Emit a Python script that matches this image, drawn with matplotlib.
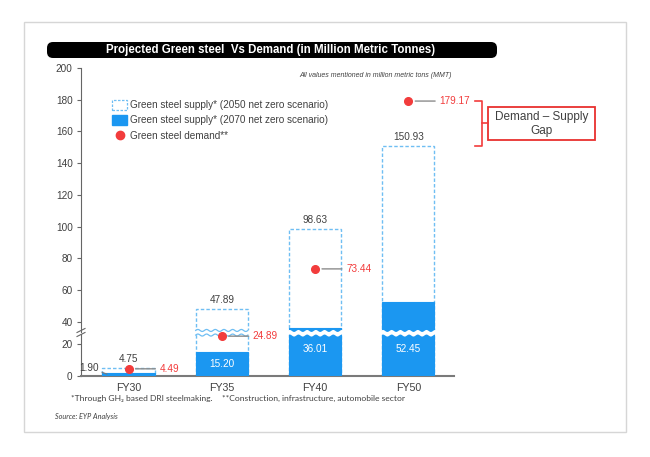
import numpy as np
import matplotlib
matplotlib.use("Agg")
import matplotlib.pyplot as plt
from matplotlib.patches import Patch, Rectangle, FancyBboxPatch
from matplotlib.lines import Line2D
from matplotlib.transforms import blended_transform_factory

# data
years = ["FY30", "FY35", "FY40", "FY50"]
supply_2050 = [4.75, 47.89, 98.63, 150.93]   # dashed outline bars
supply_2070 = [1.90, 15.20, 36.01, 52.45]    # solid bars
demand = [4.49, 24.89, 73.44, 179.17]

BLUE = "#1b97f1"
LIGHT = "#6fbef3"
RED = "#f23c3c"
DARK = "#404040"
GREY = "#7a7a7a"

plt.rcParams['font.family'] = ['Liberation Sans', 'DejaVu Sans']

W, H = 650, 457
fig = plt.figure(figsize=(W / 100, H / 100), dpi=100)


def fx(px):
    return px / W


def fy(py):
    return 1 - py / H


# broken y axis: two stacked axes
lower_top = 26.25
upper_bottom = 34
ax_up = fig.add_axes([fx(81), fy(331.5), fx(454) - fx(81), fy(68) - fy(331.5)])
ax_lo = fig.add_axes([fx(81), fy(376), fx(454) - fx(81), fy(334) - fy(376)])
ax_up.set_zorder(3)
for ax in (ax_up, ax_lo):
    ax.patch.set_visible(False)

x = np.arange(len(years))
w = 0.56
for ax in (ax_up, ax_lo):
    ax.bar(x, supply_2050, w, facecolor="white", edgecolor=LIGHT,
           linestyle=(0, (2.5, 1.5)), linewidth=1.0, zorder=2)
    ax.bar(x, supply_2070, w, color=BLUE, edgecolor=BLUE, linewidth=0.8, zorder=3)
    ax.set_xlim(-0.51, 3.49)
    for s in ("top", "right"):
        ax.spines[s].set_visible(False)
    ax.spines["left"].set_color("#666666")
    ax.tick_params(axis="y", direction="out", length=3, color="#666666",
                   labelsize=7.2, labelcolor=DARK, pad=3)

ax_up.set_ylim(upper_bottom, 200)
ax_up.set_yticks(np.arange(40, 201, 20))
ax_up.spines["bottom"].set_visible(False)
ax_up.set_xticks([])

ax_lo.set_ylim(0, lower_top)
ax_lo.set_yticks([0, 20])
ax_lo.spines["bottom"].set_color(GREY)
ax_lo.spines["bottom"].set_linewidth(1.5)
ax_lo.set_xticks(x, years)
ax_lo.tick_params(axis="x", length=0, pad=5, labelsize=7.7, labelcolor=DARK)


def pick(v):
    return ax_lo.transData if v <= lower_top else ax_up.transData


# wavy breaks across the bars that span the gap
tr = blended_transform_factory(ax_up.transData, fig.transFigure)
yc = (fy(331.5) + fy(334)) / 2
for i in x:
    if supply_2050[i] <= lower_top:
        continue
    xs = np.linspace(i - w / 2 - 0.02, i + w / 2 + 0.02, 120)
    wave = 1.0 / H * np.sin(2 * np.pi * 6 * (xs - xs[0]) / w)
    ax_up.fill_between(xs, yc - 2.3 / H + wave, yc + 2.3 / H + wave, color="white",
                       transform=tr, clip_on=False, zorder=6, linewidth=0)
    if supply_2070[i] <= lower_top:
        xe = np.linspace(i - w / 2, i + w / 2, 120)
        we = 1.0 / H * np.sin(2 * np.pi * 6 * (xe - xe[0]) / w)
        for off in (-2.3, 2.3):
            ax_up.plot(xe, yc + off / H + we, color=LIGHT, lw=0.9,
                       transform=tr, clip_on=False, zorder=7)

# break marks on the y spine
for off in (-2.0, 2.0):
    fig.add_artist(Line2D([fx(77), fx(85)], [fy(334.5 + off), fy(330.5 + off)],
                          color="#666666", lw=0.8))

# labels on top of the dashed bars
for i, v in enumerate(supply_2050):
    ax_up.annotate(f"{v:.2f}", xy=(i, v), xycoords=pick(v), xytext=(0, 4),
                   textcoords="offset pixels", ha="center", va="bottom",
                   fontsize=7.2, color=DARK, annotation_clip=False, zorder=8)

# labels inside the solid bars
for i, v in enumerate(supply_2070):
    if v < 5:
        ax_up.annotate(f"{v:.2f}", xy=(i - w / 2 + 0.05, v * 0.6), xycoords=ax_lo.transData,
                       xytext=(-8, 6), textcoords="offset pixels", ha="right", va="center",
                       fontsize=7.2, color=DARK, annotation_clip=False, zorder=8,
                       arrowprops=dict(arrowstyle="-", color=GREY, lw=0.8,
                                       relpos=(1, 0.2), shrinkA=0, shrinkB=0))
        continue
    yl = v / 2 if v < lower_top else lower_top * 0.65
    ax_lo.text(i, yl, f"{v:.2f}", ha="center", va="center", fontsize=7.2,
               color="white", zorder=5)

# demand dots with leader lines
for i, d in enumerate(demand):
    ax_up.plot(i, d, "o", ms=5.5, color=RED, transform=pick(d), clip_on=False, zorder=9)
    ax_up.annotate(f"{d:.2f}", xy=(i, d), xycoords=pick(d), xytext=(31, 0),
                   textcoords="offset pixels", ha="left", va="center", fontsize=7.2,
                   color=RED, annotation_clip=False, zorder=9,
                   arrowprops=dict(arrowstyle="-", color="#8c8c8c", lw=1.0,
                                   relpos=(0, 0.5), shrinkA=1, shrinkB=5))

# legend
handles = [
    Patch(facecolor="white", edgecolor=LIGHT, linestyle=(0, (2, 1.2)), linewidth=0.9),
    Patch(facecolor=BLUE, edgecolor=BLUE),
    Line2D([], [], marker="o", ls="", color=RED, ms=6),
]
labels = [
    "Green steel supply* (2050 net zero scenario)",
    "Green steel supply* (2070 net zero scenario)",
    "Green steel demand**",
]
leg = fig.legend(handles, labels, loc="upper left", bbox_to_anchor=(fx(112), fy(100)),
                 frameon=False, fontsize=7.2, handlelength=1.5, handleheight=1.1,
                 handletextpad=0.35, labelspacing=0.5, borderpad=0, borderaxespad=0)
for t in leg.get_texts():
    t.set_color(DARK)

# title bar
fig.add_artist(FancyBboxPatch((0.47, (H - 58) / 100), 4.50, 0.16,
                              boxstyle="round,pad=0,rounding_size=0.06",
                              transform=fig.dpi_scale_trans, facecolor="black",
                              edgecolor="none"))
fig.text(fx(271), fy(50), "Projected Green steel  Vs Demand (in Million Metric Tonnes)",
         ha="center", va="center", color="white", fontsize=8.3, fontweight="bold")

fig.text(fx(452), fy(76), "All values mentioned in million metric tons (MMT)",
         ha="right", va="center", fontsize=5, style="italic", color=DARK)

# demand-supply gap bracket and box
bx0, bx1, bx2 = 3.72, 3.79, 3.85
ax_up.plot([bx0, bx1, bx1, bx0], [demand[3], demand[3], supply_2050[3], supply_2050[3]],
           color=RED, lw=1.2, clip_on=False)
mid = (demand[3] + supply_2050[3]) / 2
ax_up.plot([bx1, bx2], [mid, mid], color=RED, lw=1.2, clip_on=False)
fig.add_artist(Rectangle((fx(488), fy(140)), fx(595) - fx(488), fy(107) - fy(140),
                         facecolor="white", edgecolor="#e8302e", lw=1.3))
fig.text(fx(541.5), fy(124), "Demand \u2013 Supply\nGap", ha="center", va="center",
         fontsize=8.5, color=DARK, linespacing=1.3)

# footnotes
foot = ['Lato', 'DejaVu Sans']
fig.text(fx(71), fy(398), "*Through GH\u2082 based DRI steelmaking.", ha="left", va="center",
         fontsize=6.1, color=DARK, family=foot)
fig.text(fx(222), fy(398), "**Construction, infrastructure, automobile sector", ha="left",
         va="center", fontsize=6.1, color=DARK, family=foot)
fig.text(fx(55), fy(416), "Source: EYP Analysis", ha="left", va="center", fontsize=5.2,
         style="italic", color=DARK, family=foot)

# outer frame
fig.add_artist(Rectangle((fx(24), fy(432)), fx(626) - fx(24), fy(22) - fy(432),
                         facecolor="none", edgecolor="#d6d6d6", lw=1.0))

fig.savefig("out.png", dpi=100)
